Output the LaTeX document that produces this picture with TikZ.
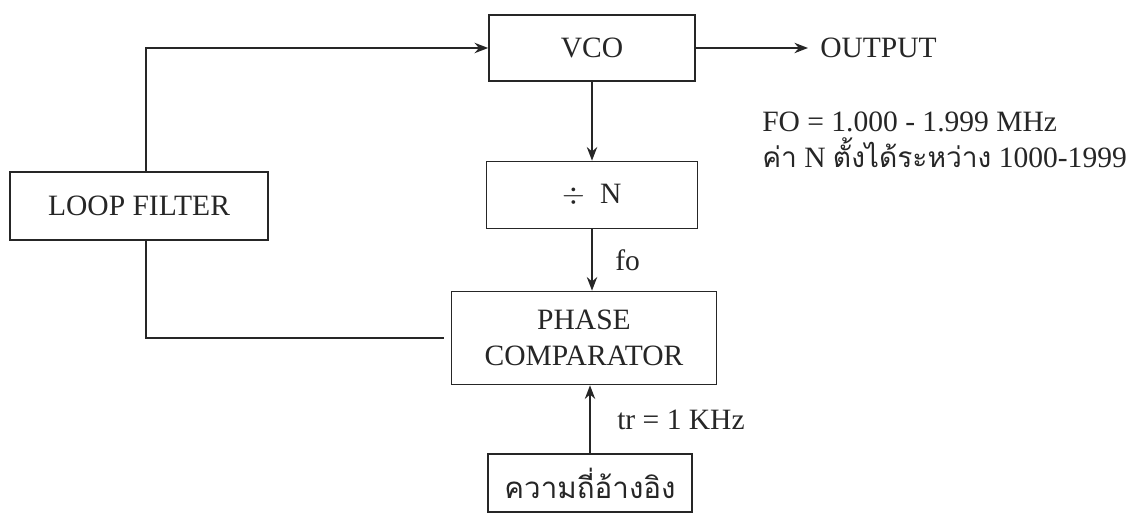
\documentclass[tikz,border=0pt]{standalone}
\usepackage{fontspec}
\setmainfont{Liberation Serif}
\newfontfamily\thaifont[Script=Thai]{Loma}
\usetikzlibrary{arrows.meta, positioning}
\definecolor{tintaNegra}{HTML}{262626}
\colorlet{colLinea}{tintaNegra}
\colorlet{colTexto}{tintaNegra}
\tikzset{
  cajaBase/.style={
    draw=colLinea, line width=1.2pt,
    align=center, text=colTexto, inner sep=0pt,
    font=\fontsize{21}{26}\selectfont, fill=white
  },
  flecha/.style={-{Stealth[length=3.4mm, width=2.6mm]}, line width=1pt, colLinea},
  linea/.style={line width=1pt, colLinea},
  etiqueta/.style={font=\fontsize{21}{25}\selectfont, text=colTexto, inner sep=0pt, anchor=west},
}
\begin{document}
\begin{tikzpicture}[x=0.025cm, y=0.025cm]
    \useasboundingbox (0,0) rectangle (1144,515);
    % bloques
    \node[cajaBase, minimum width=206*0.025cm, minimum height=66*0.025cm] (vco) at (592,467) {VCO};
    \node[cajaBase, minimum width=211*0.025cm, minimum height=67*0.025cm] (divn) at (592,320) {$\div$\ \ N};
    \node[cajaBase, minimum width=265*0.025cm, minimum height=93*0.025cm] (comp) at (584,177) {PHASE\\COMPARATOR};
    \node[cajaBase, minimum width=204*0.025cm, minimum height=58*0.025cm] (ref) at (590,32) {\thaifont ความถี่อ้างอิง};
    \node[cajaBase, minimum width=258*0.025cm, minimum height=68*0.025cm] (loop) at (139,309) {LOOP FILTER};
    % textos
    \node[etiqueta, inner xsep=12*0.025cm] (out) at (808,467) {OUTPUT};
    \node[etiqueta, align=left, anchor=north west] (datos) at (762,403)
      {FO = 1.000 - 1.999 MHz\\{\thaifont\fontsize{20}{25}\selectfont ค่า} N {\thaifont\fontsize{20}{25}\selectfont ตั้งได้ระหว่าง} 1000-1999};
    \node[etiqueta] (fo) at (615,255) {fo};
    \node[etiqueta] (tr) at (617,95) {tr = 1 KHz};
    % conexiones
    \draw[flecha] (vco.east) -- (out.west);
    \draw[flecha] (vco) -- (divn);
    \draw[flecha] (divn.south) -- (divn.south |- comp.north);
    \draw[flecha] (ref.north) -- (ref.north |- comp.south);
    \draw[flecha] ([xshift=7*0.025cm]loop.north) |- (vco.west);
    \draw[linea, shorten >=1.75mm] ([xshift=7*0.025cm]loop.south) |- (comp.west);
\end{tikzpicture}
\end{document}
